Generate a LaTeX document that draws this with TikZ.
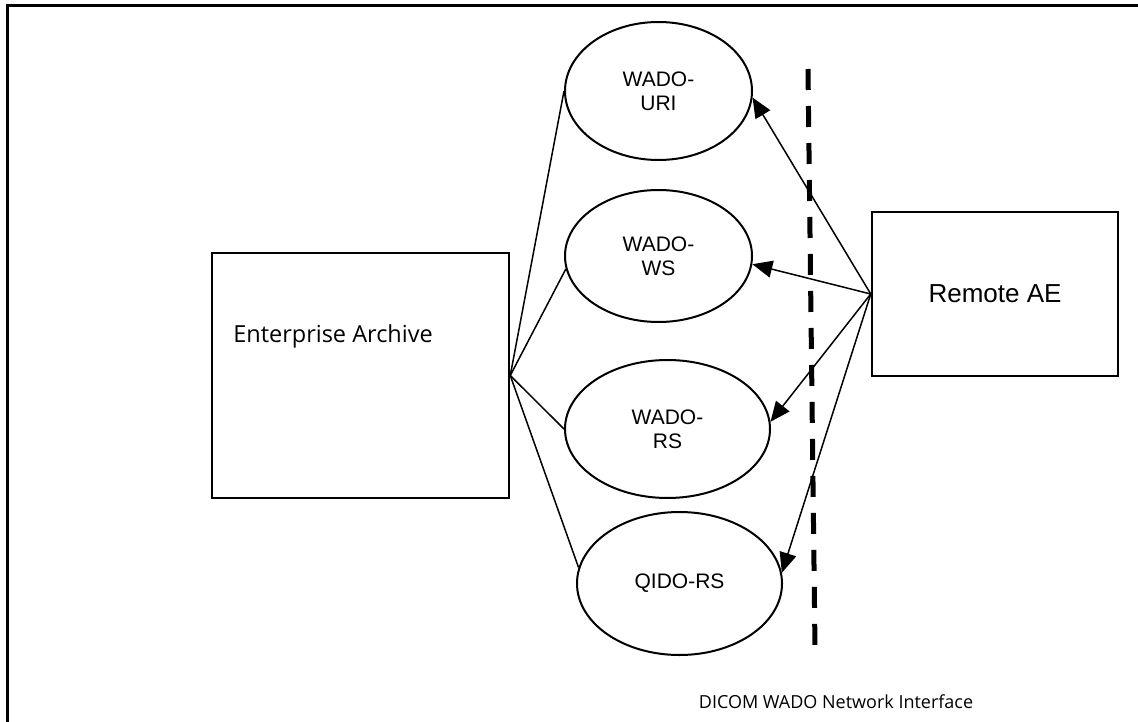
\documentclass[tikz,border=0pt]{standalone}
\usepackage{tikz}
\usepackage{fontspec}
\setmainfont{Liberation Sans}
\newfontfamily\gefont{Open Sans}
\usetikzlibrary{calc,
	positioning,
	shapes,
	arrows.meta}
\tikzstyle{box}=[draw, line width=2.5pt, inner sep=0]
\tikzstyle{svc}=[draw, ellipse, line width=2pt, inner sep=0, align=center,
		font=\fontsize{21}{24}\selectfont]
\tikzstyle{ln}=[line width=1.5pt]
\tikzstyle{arr}=[line width=1.5pt, -{Triangle[length=20pt, width=17pt]}]

\begin{document}
\begin{tikzpicture}[x=1pt, y=-1pt]
                \useasboundingbox (0,0) rectangle (1138,722);
                \draw[line width=3pt] (7,724) -- (7,6) -- (1140,6);
                % boxes
                \node[box, minimum width=297pt, minimum height=245pt] (ea) at (360.5,375.5) {};
                \node[font=\gefont\fontsize{23.5}{28}\selectfont, anchor=west] (eatxt) at ([xshift=19pt, yshift=39pt]ea.west) {Enterprise Archive};
                \node[box, minimum width=246pt, minimum height=164pt, font=\fontsize{26}{30}\selectfont] (rae) at (995,294) {Remote AE};
                % services
                \node[svc, minimum width=187pt, minimum height=138pt] (uri) at (658.5,91) {WADO-\\URI};
                \node[svc, minimum width=187pt, minimum height=132pt] (ws) at (658.5,256) {WADO-\\WS};
                \node[svc, minimum width=205pt, minimum height=138pt] (rs) at (667.5,429) {WADO-\\RS};
                \node[svc, minimum width=205pt, minimum height=143pt] (qido) at (679.5,583.5) {QIDO-RS};
                % interface
                \coordinate (dtop) at (808,69);
                \coordinate (dbot) at (815,648);
                \draw[line width=5pt, dash pattern=on 21pt off 16pt] (dtop) -- (dbot);
                \node[font=\gefont\fontsize{18}{22}\selectfont] (ifc) at (836,702) {DICOM WADO Network Interface};
                \draw[ln] (ea.east) -- (uri.west);
                \draw[ln] (ea.east) -- (ws.188);
                \draw[ln] (ea.east) -- (rs.west);
                \draw[ln] (ea.east) -- (qido.171);
                \draw[arr] (rae.west) -- (uri.-4);
                \draw[arr] (rae.west) -- (ws.-5);
                \draw[arr] (rae.west) -- (rs.4);
                \draw[arr] (rae.west) -- (qido.6);
            \end{tikzpicture}
\end{document}
